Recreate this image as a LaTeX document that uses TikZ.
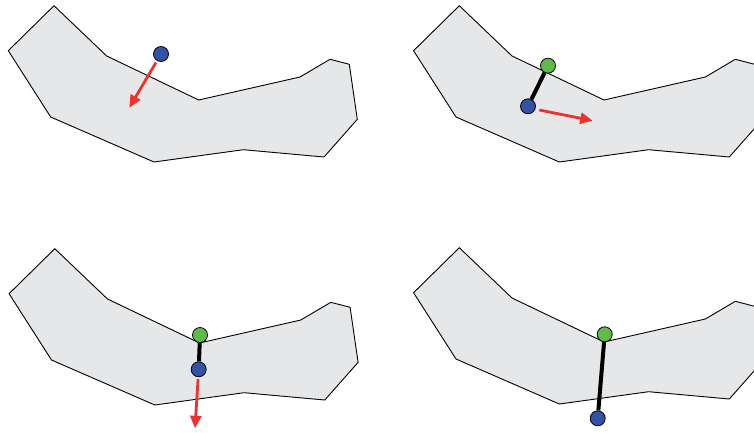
\documentclass[tikz,border=0pt]{standalone}
\usetikzlibrary{arrows.meta}
\definecolor{blobfill}{RGB}{230,231,232}
\definecolor{dotblue}{RGB}{52,82,164}
\definecolor{dotgreen}{RGB}{96,186,72}
\definecolor{arrred}{RGB}{237,50,45}
\tikzset{
  blob/.style={draw=black, fill=blobfill, line width=0.9pt, line join=miter},
  bluedot/.style={circle, draw=black, fill=dotblue, line width=0.8pt, minimum size=15pt, inner sep=0pt},
  greendot/.style={circle, draw=black, fill=dotgreen, line width=0.8pt, minimum size=15pt, inner sep=0pt},
  stick/.style={draw=black, line width=4pt},
  push/.style={draw=arrred, line width=2.8pt, -{Triangle[length=12.5pt,width=11pt]}, shorten <=2pt},
}
\newcommand{\blobshape}{(54,5.7) -- (106.7,56) -- (198.7,100) -- (300,77) -- (330,59.3) -- (349.3,64.3) -- (357.3,119.3) -- (324,157) -- (243.3,149.7) -- (154,162) -- (50.7,117) -- (8.3,50.7) -- cycle}
\begin{document}
\begin{tikzpicture}[x=1pt,y=-1pt]
\useasboundingbox (0,0) rectangle (754,432);
\begin{scope}
\clip (0,0) rectangle (754,432);
% panel 1
\path[blob] \blobshape;
% panel 2
\path[blob,shift={(405.3,0)}] \blobshape;
% panel 3
\path[blob,shift={(0.8,243)}] \blobshape;
% panel 4
\path[blob,shift={(405.3,242)}] \blobshape;
\end{scope}
% panel 1
\node[bluedot] (b1) at (161,54) {};
\coordinate (t1) at (129.3,107.7);
\draw[push] (b1) -- (t1);
% panel 2
\node[greendot] (g2) at (548,65.7) {};
\node[bluedot] (b2) at (528,106.3) {};
\draw[stick] (g2) -- (b2);
\coordinate (s2) at (539.3,110);
\coordinate (t2) at (592.7,120.7);
\draw[push, shorten <=0pt] (s2) -- (t2);
% panel 3
\node[greendot] (g3) at (200,335) {};
\node[bluedot] (b3) at (198.7,369.3) {};
\draw[stick] (g3) -- (b3);
\coordinate (t3) at (195,428.3);
\draw[push] (b3) -- (t3);
% panel 4
\node[greendot] (g4) at (604.7,334.3) {};
\node[bluedot] (b4) at (597.7,418.3) {};
\draw[stick] (g4) -- (b4);
\end{tikzpicture}
\end{document}
